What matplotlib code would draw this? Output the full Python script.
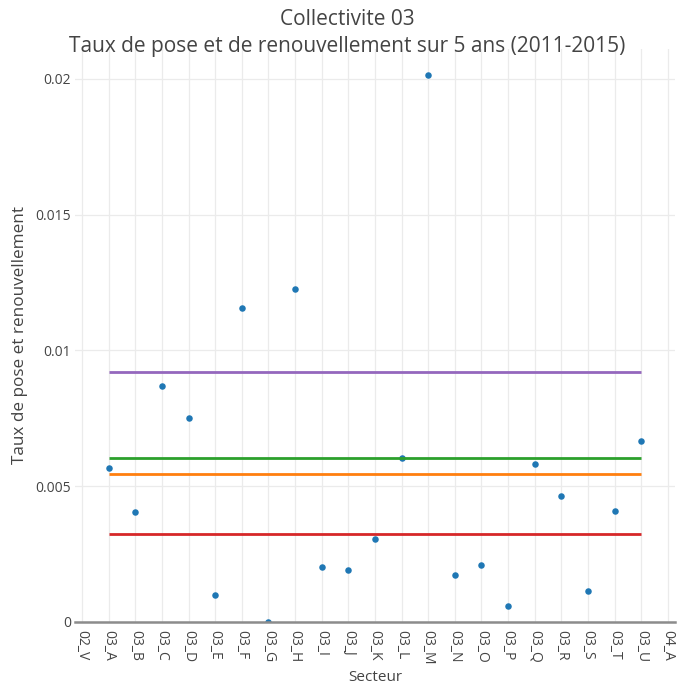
"""
Taux de pose et de renouvellement par secteur - Collectivite 03
Nuage de points par secteur + 4 lignes horizontales de reference
"""

import matplotlib
matplotlib.use('Agg')
import matplotlib.pyplot as plt

# Categories de l'axe X (02_V et 04_A encadrent les secteurs de la collectivite)
secteurs = ['02_V', '03_A', '03_B', '03_C', '03_D', '03_E', '03_F', '03_G',
            '03_H', '03_I', '03_J', '03_K', '03_L', '03_M', '03_N', '03_O',
            '03_P', '03_Q', '03_R', '03_S', '03_T', '03_U', '04_A']

# Secteurs ayant une valeur et taux
secteurs_03 = ['03_A', '03_B', '03_C', '03_D', '03_E', '03_F', '03_G',
               '03_H', '03_I', '03_J', '03_K', '03_L', '03_M', '03_N',
               '03_O', '03_P', '03_Q', '03_R', '03_S', '03_T', '03_U']
taux = [0.00565, 0.00405, 0.00868, 0.00750, 0.00100, 0.01157, 0.0,
        0.01226, 0.00201, 0.00192, 0.00307, 0.00604, 0.02015, 0.00173,
        0.00210, 0.00058, 0.00583, 0.00463, 0.00115, 0.00407, 0.00666]

# Lignes de reference (valeur, couleur) tracees de 03_A a 03_U
ref_valeurs = [0.00922, 0.00602, 0.00546, 0.00322]
ref_couleurs = ['#9467bd', '#2ca02c', '#ff7f0e', '#d62728']

TEXT_COLOR = '#444444'


def draw_chart():
    """Construit la figure et renvoie (fig, ax)"""
    plt.rcParams['font.family'] = ['Open Sans', 'DejaVu Sans']

    fig = plt.figure(figsize=(6.88, 6.88), dpi=100)
    ax = fig.add_axes([0.109, 0.096, 0.872, 0.833])

    idx = {s: i for i, s in enumerate(secteurs)}
    x_pts = [idx[s] for s in secteurs_03]

    # points
    ax.scatter(x_pts, taux, s=22, color='#1f77b4', zorder=3, linewidths=0)

    # lignes horizontales
    x_ref = [idx[secteurs_03[0]], idx[secteurs_03[-1]]]
    for val, col in zip(ref_valeurs, ref_couleurs):
        ax.plot(x_ref, [val, val], color=col, lw=2, zorder=4,
                solid_capstyle='butt')

    # axes
    ax.set_xlim(-0.263, len(secteurs) - 1 + 0.263)
    ax.set_ylim(0, 0.0211)
    ax.set_xticks(range(len(secteurs)))
    ax.set_xticklabels(secteurs, rotation=-90, fontsize=10, color=TEXT_COLOR)
    ax.set_yticks([0, 0.005, 0.01, 0.015, 0.02])
    ax.set_yticklabels(['0', '0.005', '0.01', '0.015', '0.02'],
                       fontsize=10, color=TEXT_COLOR)
    ax.tick_params(length=0, pad=3)
    ax.tick_params(axis='x', pad=6)

    ax.grid(True, color='#ebebeb', lw=0.9)
    ax.set_axisbelow(True)
    for side in ['top', 'right', 'left']:
        ax.spines[side].set_visible(False)
    ax.spines['bottom'].set_color('#8c8c8c')
    ax.spines['bottom'].set_linewidth(1.8)
    ax.spines['bottom'].set_zorder(5)

    ax.set_xlabel('Secteur', fontsize=11, color=TEXT_COLOR, labelpad=4)
    ax.set_ylabel('Taux de pose et renouvellement', fontsize=12.3,
                  color=TEXT_COLOR, labelpad=5)

    fig.text(0.505, 0.971, 'Collectivite 03', ha='center', va='center',
             fontsize=15, color=TEXT_COLOR)
    fig.text(0.505, 0.933,
             'Taux de pose et de renouvellement sur 5 ans (2011-2015)',
             ha='center', va='center', fontsize=15, color=TEXT_COLOR)
    return fig, ax


def main():
    fig, ax = draw_chart()
    fig.savefig('out.png', dpi=100)


if __name__ == '__main__':
    main()
